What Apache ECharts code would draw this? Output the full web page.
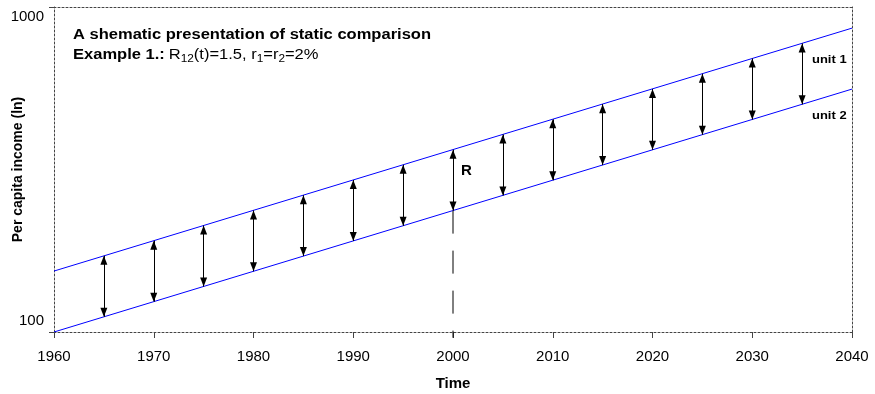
<!DOCTYPE html>
<html><head><meta charset="utf-8">
<script src="https://cdn.jsdelivr.net/npm/echarts@6/dist/echarts.min.js"></script>
<style>html,body{margin:0;padding:0;background:#fff}#c{width:875px;height:394px}</style>
</head><body><div id="c"></div>
<script>
// Data
const lineYears = [1960, 2040];
const unit1 = [154, 861];
const unit2 = [100, 559];
const arrowYears = [1965,1970,1975,1980,1985,1990,1995,2000,2005,2010,2015,2020,2025,2030,2035];
const arrowLow  = [111.4,124.0,138.0,153.7,171.2,190.6,212.2,236.3,263.2,293.0,326.3,363.4,404.6,450.6,501.7];
const arrowHigh = [171.6,191.0,212.5,236.7,263.6,293.5,326.8,363.9,405.3,451.2,502.5,559.6,623.0,694.0,772.6];
const refYear = 2000;
const refLow = 96;
const refHigh = 236.3;
const yTicks = [100, 1000];

const font = 'Liberation Sans, Arial, sans-serif';
const SX = 1.18;
const chart = echarts.init(document.getElementById('c'));
const dotted = {color:'#444', type:[2,2], width:1};
const arrowData = arrowYears.map((y,i)=>[{coord:[y,arrowLow[i]]},{coord:[y,arrowHigh[i]]}]);
const head = 'path://M0,9 L3.5,18 L-3.5,18 Z M0,0';
function txt(x,y,text,f,extra){
  return Object.assign({type:'text',x:x,y:y,scaleX:SX,silent:true,
    style:{text:text,font:f,fill:'#000',align:'left',verticalAlign:'top'}},extra||{});
}
chart.setOption({
  animation:false,
  grid:{left:54,right:23,top:7,bottom:62,containLabel:false,outerBoundsMode:'none'},
  xAxis:[{type:'value',min:1960,max:2040,interval:10,
    axisLine:{lineStyle:dotted},axisTick:{show:true,length:6,lineStyle:{color:'#444'}},
    splitLine:{show:false},
    axisLabel:{color:'#000',fontFamily:font,fontSize:15,margin:17,formatter:v=>String(v)},
    name:'Time',nameLocation:'middle',nameGap:44,nameMoveOverlap:false,
    nameTextStyle:{color:'#000',fontFamily:font,fontSize:15,fontWeight:'bold'}},
   {type:'value',position:'top',min:1960,max:2040,axisLine:{show:true,lineStyle:dotted},
    axisTick:{show:false},axisLabel:{show:false},splitLine:{show:false}}],
  yAxis:[{type:'log',logBase:10,min:100,max:1000,
    axisLine:{show:true,lineStyle:dotted},axisTick:{show:true,length:5,lineStyle:{color:'#444'}},
    minorTick:{show:false},splitLine:{show:false},
    axisLabel:{color:'#000',fontFamily:font,fontSize:15,margin:10,
      formatter:v=>{const r=Math.round(v);
        if(r===yTicks[0]) return '{lo|'+r+'}';
        if(r===yTicks[1]) return '{hi|'+r+'}';
        return '';},
      rich:{lo:{fontFamily:font,fontSize:15,color:'#000',padding:[0,0,22,0]},
            hi:{fontFamily:font,fontSize:15,color:'#000',padding:[20,0,0,0]}}},
    name:'Per capita income (ln)',nameLocation:'middle',nameGap:29,nameMoveOverlap:false,
    nameTextStyle:{color:'#000',fontFamily:font,fontSize:14,fontWeight:'bold'}},
   {type:'log',logBase:10,min:100,max:1000,position:'right',axisLine:{show:true,lineStyle:dotted},
    axisTick:{show:false},axisLabel:{show:false},splitLine:{show:false}}],
  series:[
    {type:'line',data:lineYears.map((y,i)=>[y,unit1[i]]),symbol:'none',lineStyle:{color:'#0000ff',width:1},silent:true},
    {type:'line',data:lineYears.map((y,i)=>[y,unit2[i]]),symbol:'none',lineStyle:{color:'#0000ff',width:1},silent:true,
      markLine:{silent:true,symbol:[head,head],symbolSize:[7,18],label:{show:false},
        lineStyle:{color:'#000',width:1,type:'solid'},itemStyle:{color:'#000'},data:arrowData}},
    {type:'line',data:[[refYear,refHigh],[refYear,refLow]],symbol:'none',clip:false,
      lineStyle:{color:'#000',width:1,type:[23,17]},silent:true}
  ],
  graphic:[
    txt(73,28,'A shematic presentation of static comparison','bold 14px '+font),
    {type:'text',x:73,y:45.5,scaleX:SX,silent:true,style:{
      align:'left',verticalAlign:'top',
      text:'{b|Example 1.:} {n|R}{s|12}{n|(t)=1.5, r}{s|1}{n|=r}{s|2}{n|=2%}',
      rich:{b:{font:'bold 14px '+font,fill:'#000'},n:{font:'14px '+font,fill:'#000'},
            s:{font:'10px '+font,fill:'#000',verticalAlign:'bottom',padding:[9,0,0,0]}}}},
    txt(812,54,'unit 1','bold 11px '+font),
    txt(812,110,'unit 2','bold 11px '+font),
    txt(461,163,'R','bold 15px '+font,{scaleX:1})
  ]
});
</script></body></html>
